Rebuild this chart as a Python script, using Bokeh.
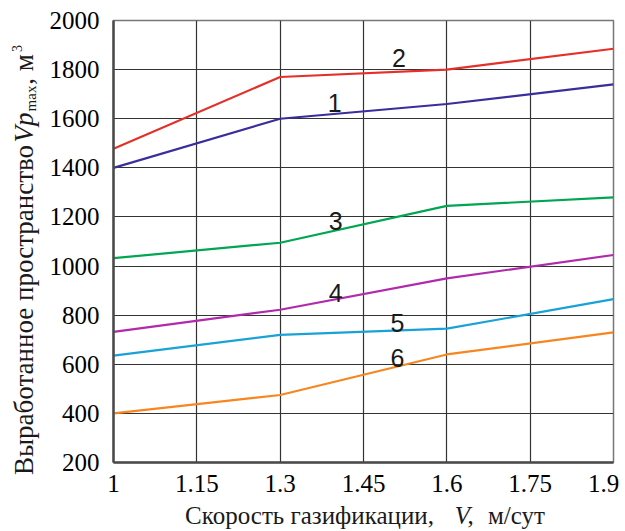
import math
from bokeh.plotting import figure
from bokeh.models import FixedTicker, Label, Range1d
from bokeh.layouts import row, column
from bokeh.embed import file_html
from bokeh.resources import INLINE

# ---- data ----
speed = [1.0, 1.3, 1.6, 1.9]
curve1 = [1400, 1600, 1660, 1740]
curve2 = [1478, 1770, 1800, 1885]
curve3 = [1032, 1095, 1245, 1280]
curve4 = [732, 822, 950, 1045]
curve5 = [635, 720, 745, 865]
curve6 = [400, 475, 640, 730]
curve_names = ["1", "2", "3", "4", "5", "6"]
x_ticks = [1.0, 1.15, 1.3, 1.45, 1.6, 1.75, 1.9]
x_tick_labels = ["1", "1.15", "1.3", "1.45", "1.6", "1.75", "1.9"]
y_ticks = [200, 400, 600, 800, 1000, 1200, 1400, 1600, 1800, 2000]

colors = ["#3a2e9c", "#e5302a", "#00a651", "#b02aab", "#19a2d8", "#f7861f"]
series = [curve1, curve2, curve3, curve4, curve5, curve6]
# label anchor points (data coords) for the curve numbers
label_x = [1.398, 1.514, 1.400, 1.400, 1.511, 1.511]
label_y = [1662, 1847, 1183, 892, 770, 624]

FONT = "Liberation Serif"
TXT = "#1a1a1a"

# ---------------- main chart ----------------
p = figure(width=579, height=500, title=None,
           x_range=Range1d(1.0, 1.9), y_range=Range1d(200, 2000),
           output_backend="svg", toolbar_location=None,
           min_border_left=65, min_border_right=12,
           min_border_top=20, min_border_bottom=38)

p.background_fill_color = "white"
p.border_fill_color = "white"
p.outline_line_color = "#777777"
p.outline_line_width = 1.5

p.xaxis.ticker = FixedTicker(ticks=x_ticks)
p.yaxis.ticker = FixedTicker(ticks=y_ticks)
overrides = {t: l for t, l in zip(x_ticks, x_tick_labels)}
overrides[1.9] = "1.9\u00a0"
p.xaxis.major_label_overrides = overrides

for ax in (p.xaxis, p.yaxis):
    ax.axis_line_color = "#4a4a4a"
    ax.axis_line_width = 2.5
    ax.major_tick_line_color = None
    ax.minor_tick_line_color = None
    ax.major_tick_out = 0
    ax.major_tick_in = 0
    ax.minor_tick_out = 0
    ax.major_label_text_font = FONT
    ax.major_label_text_font_size = "25px"
    ax.major_label_text_color = "black"
p.xaxis.major_label_standoff = 7
p.yaxis.major_label_standoff = 14

p.xgrid.ticker = FixedTicker(ticks=x_ticks)
p.ygrid.ticker = FixedTicker(ticks=y_ticks)
p.grid.grid_line_color = "#333333"
p.grid.grid_line_width = 1.2

for ys, c in zip(series, colors):
    p.line(speed, ys, line_color=c, line_width=2.2)

for name, lx, ly in zip(curve_names, label_x, label_y):
    p.add_layout(Label(x=lx, y=ly, text=name, text_font="Liberation Sans",
                       text_font_size="25px", text_color=TXT,
                       text_align="center", text_baseline="middle"))

# ---------------- axis-title strips (pixel coordinates) ----------------
def strip(w, h):
    f = figure(title=None, frame_width=w, frame_height=h,
               x_range=Range1d(0, w), y_range=Range1d(0, h),
               x_axis_type=None, y_axis_type=None, toolbar_location=None,
               output_backend="svg", min_border=0,
               min_border_left=0, min_border_right=0,
               min_border_top=0, min_border_bottom=0)
    f.outline_line_color = None
    f.background_fill_color = "white"
    f.border_fill_color = "white"
    return f

def put(f, text, cx, cy, size, style="normal", angle=0.0):
    # pieces are anchored at their centre
    f.add_layout(Label(x=cx, y=cy, text=text, angle=angle,
                       text_font=FONT, text_font_size=size, text_font_style=style,
                       text_color=TXT, text_align="center", text_baseline="middle"))

# y title: rotated, reads bottom to top
yt = strip(46, 500)
a = math.pi / 2
put(yt, "Выработанное пространство", 23.9, 210.5, "27px", angle=a)
put(yt, "Vp", 23.9, 393, "27px", "italic", angle=a)
put(yt, "max", 30, 422, "15px", angle=a)
put(yt, ", м", 23.9, 451, "27px", angle=a)
put(yt, "3", 16.3, 472, "14px", angle=a)

# x title
xt = strip(625, 31)
put(xt, "Скорость газификации,", 309, 16.4, "25px")
put(xt, "V", 462, 16.4, "25px", "italic")
put(xt, ",", 470, 16.4, "25px")
put(xt, "м/сут", 516, 16.4, "25px")

layout = column(row(yt, p), xt)
open("out.html", "w").write(file_html(layout, INLINE))
